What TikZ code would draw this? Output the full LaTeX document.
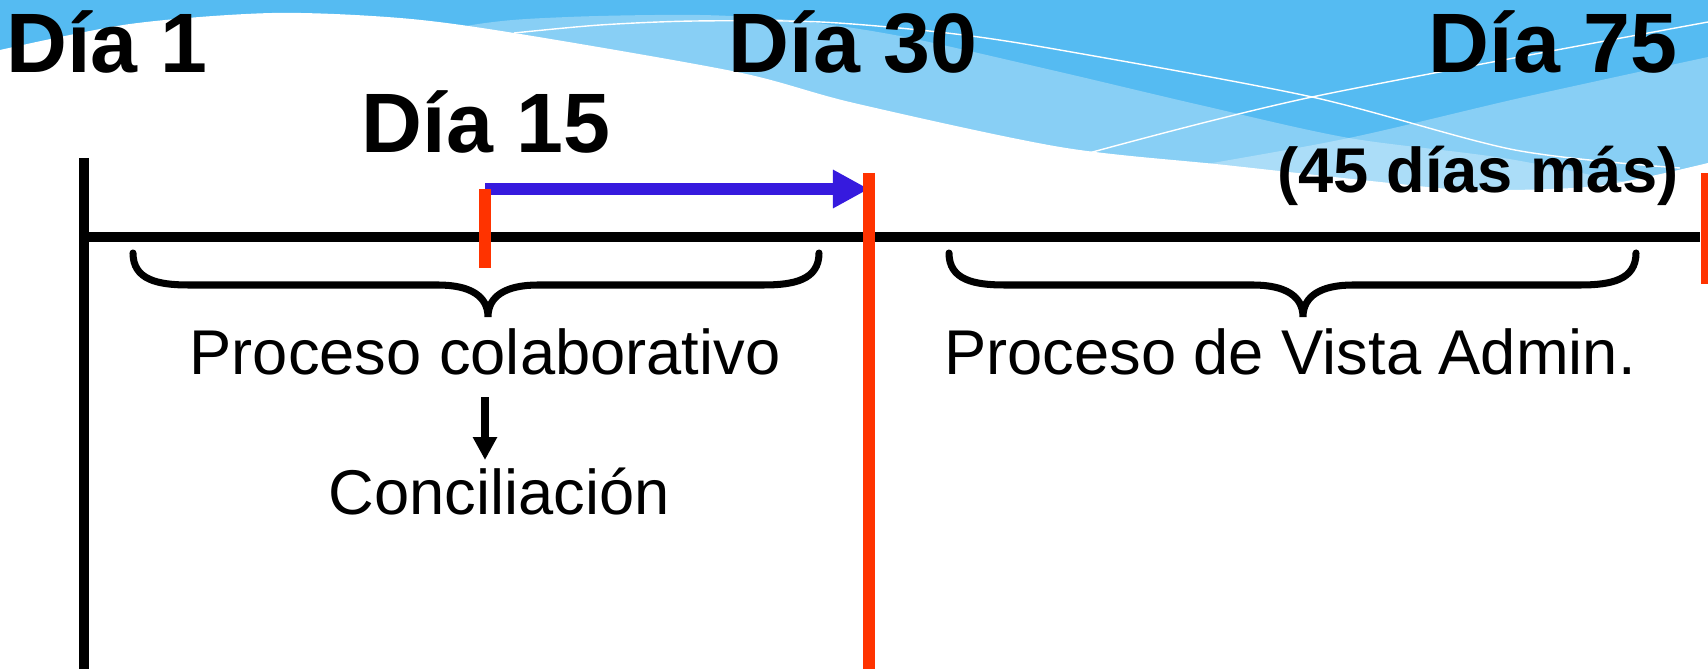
\documentclass[tikz,border=0pt]{standalone}
\usepackage{fontspec}
\setmainfont{Liberation Sans}
\usetikzlibrary{arrows.meta}
\definecolor{cielo}{RGB}{85,187,242}
\definecolor{rojo}{RGB}{255,51,0}
\definecolor{azul}{RGB}{54,26,222}
\newcommand{\llave}[3]{%
  \draw[llave] (#1,253) .. controls (#1,280) and (#1+25,285) .. (#1+56,285)
    -- (#2-50,285) .. controls (#2-18,285) and (#2,296) .. (#2,317)
    .. controls (#2,296) and (#2+18,285) .. (#2+50,285)
    -- (#3-56,285) .. controls (#3-25,285) and (#3,280) .. (#3,253);}

\begin{document}
\begin{tikzpicture}[x=0.02cm,y=-0.02cm,
    dia/.style={font=\fontsize{48}{50}\selectfont\bfseries,inner sep=0,anchor=base},
    texto/.style={font=\fontsize{36}{40}\selectfont,inner sep=0,anchor=base},
    eje/.style={line width=5.7pt},
    marca/.style={rojo,line width=6.8pt},
    llave/.style={line width=4pt,line cap=round},
    onda/.style={white,line width=0.8pt}]
    \useasboundingbox (0,0) rectangle (1708,669);
    % fondo
    \fill[cielo] (0,0) rectangle (1708,260);
    \fill[white,opacity=0.3] plot[smooth] coordinates {(300,60) (472,25) (568,17) (700,15) (800,21) (905,37) (1060,72) (1200,105) (1349,138) (1515,160) (1708,200)} -- (1708,260) -- (300,260) -- cycle;
    \fill[white,opacity=0.3] plot[smooth] coordinates {(1000,200) (1184,168) (1349,138) (1520,98) (1708,57)} -- (1708,260) -- (1000,260) -- cycle;
    \draw[onda] plot[smooth] coordinates {(514,33) (600,25) (695,21) (821,22) (947,33) (1060,50) (1312,97) (1515,150) (1680,168)};
    \draw[onda] plot[smooth] coordinates {(1089,153) (1312,97) (1708,22)};
    \fill[white] plot[smooth] coordinates {(0,50) (130,24) (272,13) (400,18) (514,33) (737,72) (854,103) (1060,147) (1225,165) (1390,183) (1473,190) (1597,186) (1708,163)} -- (1708,669) -- (0,669) -- cycle;

    \node[dia] (dia1) at (107,73) {Día 1};
    \node[dia] (dia30) at (853,73) {Día 30};
    \node[dia] (dia75) at (1553,73) {Día 75};
    \node[dia] (dia15) at (486,153) {Día 15};
    \node[texto,font=\fontsize{36}{40}\selectfont\bfseries] (mas45) at (1478,193) {(45 días más)};
    \node[texto] (colab) at (485,374) {Proceso colaborativo};
    \node[texto] (vista) at (1290,374) {Proceso de Vista Admin.};
    \node[texto] (concil) at (499,514) {Conciliación};

    \coordinate (d15) at (485,189);
    \coordinate (d30) at (869,189);
    \coordinate (c1) at (485,397);
    \coordinate (c2) at (485,460);

    \draw[eje] (84,158) -- (84,669);
    \draw[eje] (84,237) -- (1700,237);
    \draw[azul,line width=6.8pt,-{Triangle[length=20.5pt,width=20.5pt]}] (d15) -- (d30);
    \draw[marca] (485,189) -- (485,268);
    \draw[marca] (869,173) -- (869,669);
    \draw[marca] (1707,173) -- (1707,284);
    \llave{133}{488}{819}
    \llave{949}{1303}{1636}
    \draw[line width=4pt,-{Triangle[length=13pt,width=13pt]}] (c1) -- (c2);
\end{tikzpicture}
\end{document}
